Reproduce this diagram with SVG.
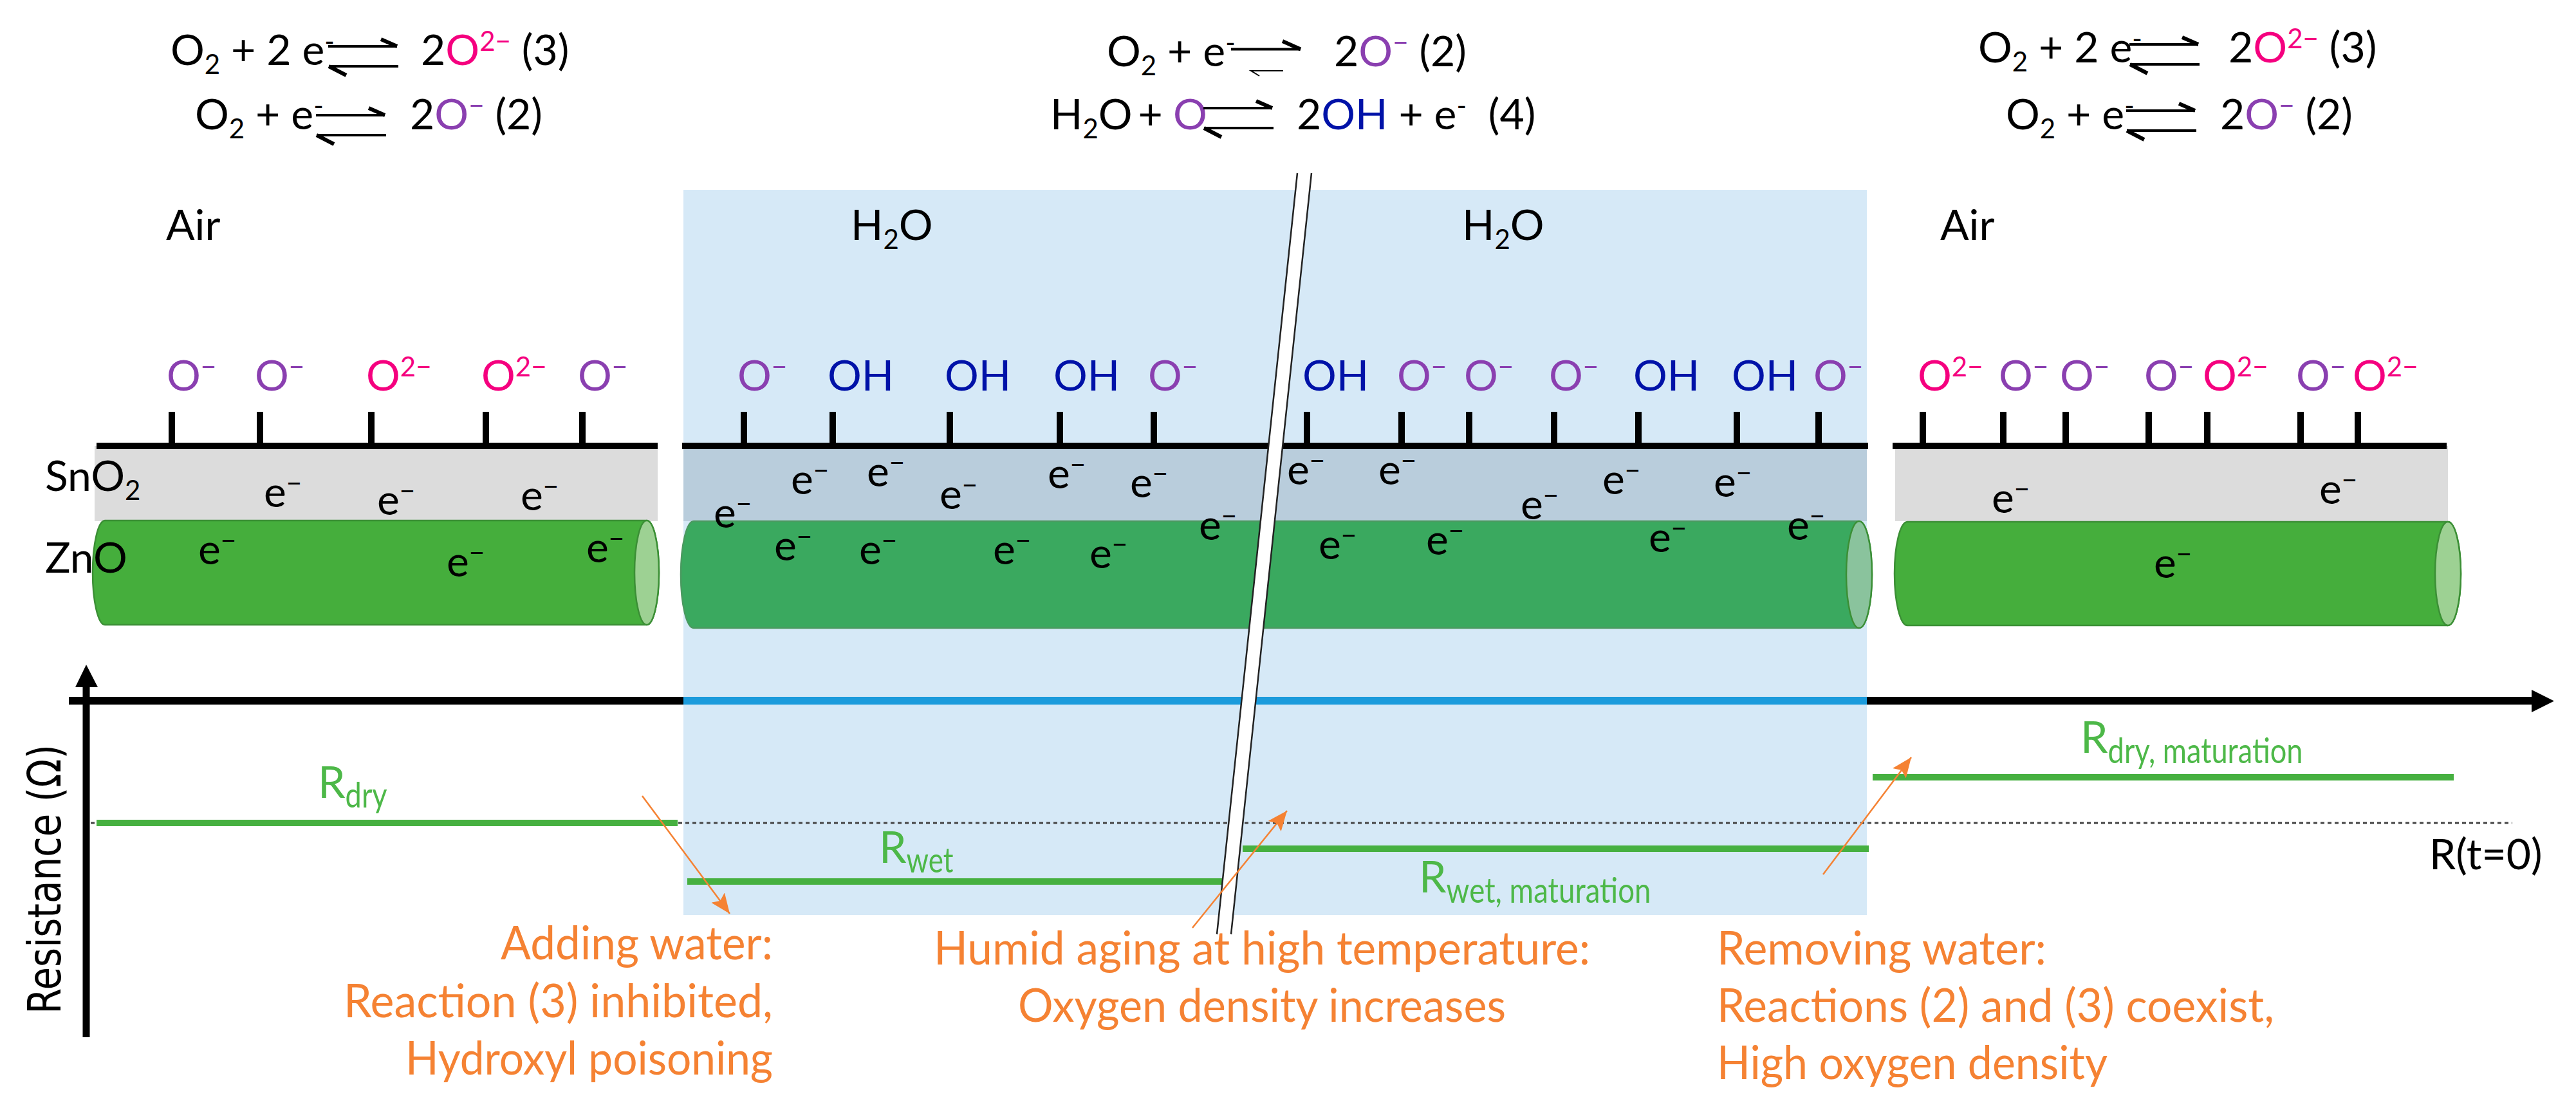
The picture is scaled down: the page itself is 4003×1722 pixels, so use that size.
<svg xmlns="http://www.w3.org/2000/svg" width="4003" height="1722" viewBox="0 0 4003 1722" xmlns:xlink="http://www.w3.org/1999/xlink">
<style>
text{font-family:"Lato","Liberation Sans",sans-serif;font-size:66px;fill:#000;white-space:pre}
.p{fill:#8a3fb0}.m{fill:#f5007f}.h{fill:#0012a8}
.s{font-size:42px}.b{font-size:42px}
.g{fill:#4db848;font-size:68px}.gs{font-size:54px}
.o{fill:#f58233;font-size:71px}
.sur{stroke:#000;stroke-width:10;fill:none}
.eq{stroke:#000;stroke-width:4;fill:none}
.eqh{stroke:#000;stroke-width:6;fill:none}
.gl{stroke:#46b040;stroke-width:10;fill:none}
.oa{stroke:#f58233;stroke-width:2.5;fill:none;marker-end:url(#oh)}
</style>
<defs>
<marker id="oh" markerUnits="userSpaceOnUse" markerWidth="34" markerHeight="28" refX="31" refY="13" orient="auto"><path d="M0,0L31,13L0,26L6,13Z" fill="#f58233"/></marker>
<g id="eq"><path class="eq" d="M0,0H107M1,31H109"/><path class="eqh" d="M107,0L82,-11M1,31L28,45"/></g>
</defs>
<rect width="4003" height="1722" fill="#fff"/>
<g id="humid-zone"><rect x="1062" y="295" width="1839" height="1127" fill="#d6e9f7"/></g>

<g id="sample-air-left">
<rect x="147" y="693" width="875" height="117" fill="#dcdcdc"/>
<path d="M163,809H1005A19,81 0 0 1 1005,971H163A19,81 0 0 1 163,809Z" fill="#45ae3c" stroke="#3b8f35" stroke-width="2.5"/>
<ellipse cx="1005" cy="890" rx="19" ry="81" fill="#9dd193" stroke="#3b8f35" stroke-width="2.5"/>
<path class="sur" d="M150,693H1022M267,640V693M404,640V693M577,640V693M755,640V693M905,640V693"/>
</g>
<g id="sample-humid">
<rect x="1062" y="693" width="1839" height="117" fill="#b9cddc"/>
<path d="M1078,810H2889A20,83 0 0 1 2889,976H1078A20,83 0 0 1 1078,810Z" fill="#3aa95f" stroke="#4a9a60" stroke-width="2.5"/>
<ellipse cx="2889" cy="893" rx="20" ry="83" fill="#8ac39d" stroke="#3b8f35" stroke-width="2.5"/>
<path class="sur" d="M1060,693H2903M1156,640V693M1294,640V693M1476,640V693M1647,640V693M1793,640V693M2031,640V693M2178,640V693M2283,640V693M2415,640V693M2546,640V693M2699,640V693M2826,640V693"/>
</g>
<g id="sample-air-right">
<rect x="2945" y="693" width="859" height="117" fill="#dcdcdc"/>
<path d="M2964,811H3804A20,80.500 0 0 1 3804,972H2964A20,80.500 0 0 1 2964,811Z" fill="#45ae3c" stroke="#3b8f35" stroke-width="2.500"/>
<ellipse cx="3804" cy="891.500" rx="20" ry="80.500" fill="#9dd193" stroke="#3b8f35" stroke-width="2.500"/>
<path class="sur" d="M2941,693H3802M2988,640V693M3113,640V693M3210,640V693M3339,640V693M3430,640V693M3575,640V693M3664,640V693"/>
</g>

<g id="electrons">
<text x="410" y="788">e<tspan class="s" dy="-22">−</tspan></text>
<text x="586" y="800">e<tspan class="s" dy="-22">−</tspan></text>
<text x="809" y="793">e<tspan class="s" dy="-22">−</tspan></text>
<text x="308" y="877">e<tspan class="s" dy="-22">−</tspan></text>
<text x="694" y="896">e<tspan class="s" dy="-22">−</tspan></text>
<text x="911" y="874">e<tspan class="s" dy="-22">−</tspan></text>
<text x="1109" y="820">e<tspan class="s" dy="-22">−</tspan></text>
<text x="1229" y="768">e<tspan class="s" dy="-22">−</tspan></text>
<text x="1203" y="871">e<tspan class="s" dy="-22">−</tspan></text>
<text x="1347" y="756">e<tspan class="s" dy="-22">−</tspan></text>
<text x="1335" y="877">e<tspan class="s" dy="-22">−</tspan></text>
<text x="1460" y="791">e<tspan class="s" dy="-22">−</tspan></text>
<text x="1628" y="759">e<tspan class="s" dy="-22">−</tspan></text>
<text x="1756" y="773">e<tspan class="s" dy="-22">−</tspan></text>
<text x="1863" y="839">e<tspan class="s" dy="-22">−</tspan></text>
<text x="1543" y="877">e<tspan class="s" dy="-22">−</tspan></text>
<text x="1693" y="883">e<tspan class="s" dy="-22">−</tspan></text>
<text x="2000" y="753">e<tspan class="s" dy="-22">−</tspan></text>
<text x="2142" y="753">e<tspan class="s" dy="-22">−</tspan></text>
<text x="2363" y="807">e<tspan class="s" dy="-22">−</tspan></text>
<text x="2490" y="768">e<tspan class="s" dy="-22">−</tspan></text>
<text x="2049" y="869">e<tspan class="s" dy="-22">−</tspan></text>
<text x="2216" y="862">e<tspan class="s" dy="-22">−</tspan></text>
<text x="2562" y="858">e<tspan class="s" dy="-22">−</tspan></text>
<text x="2663" y="772">e<tspan class="s" dy="-22">−</tspan></text>
<text x="2777" y="839">e<tspan class="s" dy="-22">−</tspan></text>
<text x="3095" y="797">e<tspan class="s" dy="-22">−</tspan></text>
<text x="3604" y="783">e<tspan class="s" dy="-22">−</tspan></text>
<text x="3347" y="898">e<tspan class="s" dy="-22">−</tspan></text>
</g>

<g id="surface-species">
<text class="p" x="259" y="607">O<tspan class="s" dy="-22">−</tspan></text>
<text class="p" x="396" y="607">O<tspan class="s" dy="-22">−</tspan></text>
<text class="m" x="569" y="607">O<tspan class="s" dy="-22">2−</tspan></text>
<text class="m" x="748" y="607">O<tspan class="s" dy="-22">2−</tspan></text>
<text class="p" x="898" y="607">O<tspan class="s" dy="-22">−</tspan></text>
<text class="p" x="1146" y="607">O<tspan class="s" dy="-22">−</tspan></text>
<text class="h" x="1286" y="607">OH</text>
<text class="h" x="1468" y="607">OH</text>
<text class="h" x="1637" y="607">OH</text>
<text class="p" x="1784" y="607">O<tspan class="s" dy="-22">−</tspan></text>
<text class="h" x="2024" y="607">OH</text>
<text class="p" x="2171" y="607">O<tspan class="s" dy="-22">−</tspan></text>
<text class="p" x="2275" y="607">O<tspan class="s" dy="-22">−</tspan></text>
<text class="p" x="2407" y="607">O<tspan class="s" dy="-22">−</tspan></text>
<text class="h" x="2538" y="607">OH</text>
<text class="h" x="2691" y="607">OH</text>
<text class="p" x="2818" y="607">O<tspan class="s" dy="-22">−</tspan></text>
<text class="m" x="2980" y="607">O<tspan class="s" dy="-22">2−</tspan></text>
<text class="p" x="3106" y="607">O<tspan class="s" dy="-22">−</tspan></text>
<text class="p" x="3201" y="607">O<tspan class="s" dy="-22">−</tspan></text>
<text class="p" x="3332" y="607">O<tspan class="s" dy="-22">−</tspan></text>
<text class="m" x="3423" y="607">O<tspan class="s" dy="-22">2−</tspan></text>
<text class="p" x="3568" y="607">O<tspan class="s" dy="-22">−</tspan></text>
<text class="m" x="3656" y="607">O<tspan class="s" dy="-22">2−</tspan></text>
</g>

<g id="labels">
<text x="258" y="373">Air</text><text x="3015" y="373">Air</text>
<text x="1322" y="373">H<tspan class="b" dy="14">2</tspan><tspan dy="-14">O</tspan></text>
<text x="2272" y="373">H<tspan class="b" dy="14">2</tspan><tspan dy="-14">O</tspan></text>
<text x="70" y="763">SnO<tspan class="b" dy="14">2</tspan></text>
<text x="70" y="890">ZnO</text>
</g>

<g id="equations">
<text x="265" y="101">O<tspan class="b" dy="14">2</tspan><tspan dy="-14"> + 2 e</tspan><tspan class="s" dy="-22">-</tspan></text>
<use xlink:href="#eq" x="510" y="72"/>
<text x="654" y="101">2<tspan class="m">O</tspan><tspan class="s m" dy="-22">2−</tspan><tspan dy="22"> (3)</tspan></text>
<text x="303" y="201">O<tspan class="b" dy="14">2</tspan><tspan dy="-14"> + e</tspan><tspan class="s" dy="-22">-</tspan></text>
<use xlink:href="#eq" x="491" y="179"/>
<text x="637" y="201">2<tspan class="p">O</tspan><tspan class="s p" dy="-22">−</tspan><tspan dy="22"> (2)</tspan></text>

<text x="1720" y="103">O<tspan class="b" dy="14">2</tspan><tspan dy="-14"> + e</tspan><tspan class="s" dy="-22">-</tspan></text>
<path class="eq" d="M1913,76.500H2021"/><path class="eqh" d="M2021,76.500L1993,64"/><path d="M1994,110H1944L1957,118" fill="none" stroke="#000" stroke-width="2"/>
<text x="2073" y="103">2<tspan class="p">O</tspan><tspan class="s p" dy="-22">−</tspan><tspan dy="22"> (2)</tspan></text>
<text x="1632" y="201">H<tspan class="b" dy="14">2</tspan><tspan dy="-14" style="letter-spacing:-4px">O + </tspan><tspan class="p" x="1823">O</tspan></text>
<use xlink:href="#eq" x="1870" y="168"/>
<text x="2015" y="201">2<tspan class="h">OH</tspan> + e<tspan class="s" dy="-22">-</tspan><tspan dy="22">  (4)</tspan></text>

<text x="3074" y="97">O<tspan class="b" dy="14">2</tspan><tspan dy="-14"> + 2 e</tspan><tspan class="s" dy="-22">-</tspan></text>
<use xlink:href="#eq" x="3309" y="69"/>
<text x="3463" y="97">2<tspan class="m">O</tspan><tspan class="s m" dy="-22">2−</tspan><tspan dy="22"> (3)</tspan></text>
<text x="3117" y="201">O<tspan class="b" dy="14">2</tspan><tspan dy="-14"> + e</tspan><tspan class="s" dy="-22">-</tspan></text>
<use xlink:href="#eq" x="3304" y="172"/>
<text x="3450" y="201">2<tspan class="p">O</tspan><tspan class="s p" dy="-22">−</tspan><tspan dy="22"> (2)</tspan></text>
</g>

<g id="axes">
<path d="M107,1089H1062" stroke="#000" stroke-width="12" fill="none"/>
<path d="M1062,1089H2901" stroke="#1b9bdc" stroke-width="12" fill="none"/>
<path d="M2901,1089H3936" stroke="#000" stroke-width="12" fill="none"/>
<path d="M3934,1072L3969,1089.500L3934,1107Z" fill="#000"/>
<path d="M134,1612V1066" stroke="#000" stroke-width="11" fill="none"/>
<path d="M117,1068L134,1033L152,1068Z" fill="#000"/>
<text transform="translate(94,1576) rotate(-90)" textLength="419" lengthAdjust="spacingAndGlyphs" style="font-family:'DejaVu Sans',sans-serif;font-size:72px">Resistance (Ω)</text>
<path d="M141,1279H3904" stroke="#444" stroke-width="3" stroke-dasharray="6 5" fill="none"/>
</g>

<g id="resistance-levels">
<path class="gl" d="M150,1279H1053"/>
<path class="gl" d="M1068,1370H1900"/>
<path class="gl" d="M1931,1319H2904"/>
<path class="gl" d="M2910,1208H3813"/>
<text class="g" x="494" y="1240">R<tspan class="gs" dy="15" textLength="65" lengthAdjust="spacingAndGlyphs">dry</tspan></text>
<text class="g" x="1366" y="1341">R<tspan class="gs" dy="15" textLength="73" lengthAdjust="spacingAndGlyphs">wet</tspan></text>
<text class="g" x="2205" y="1387">R<tspan class="gs" dy="16" textLength="318" lengthAdjust="spacingAndGlyphs">wet, maturation</tspan></text>
<text class="g" x="3233" y="1170">R<tspan class="gs" dy="16" textLength="303" lengthAdjust="spacingAndGlyphs">dry, maturation</tspan></text>
<text x="3775" y="1351">R(t=0)</text>
</g>

<g id="axis-break">
<path d="M2016,269H2038L1913,1452H1891Z" fill="#fff"/>
<path d="M2016,269L1891,1452M2038,269L1913,1452" stroke="#222" stroke-width="2.500" fill="none"/>
</g>

<g id="connectors">
<path class="oa" d="M998,1237L1134,1420"/>
<path class="oa" d="M1853,1442L2000,1260"/>
<path class="oa" d="M2833,1359L2970,1177"/>
</g>

<g id="notes">
<text class="o" x="778" y="1491" textLength="423" lengthAdjust="spacingAndGlyphs">Adding water:</text>
<text class="o" x="534" y="1581" textLength="667" lengthAdjust="spacingAndGlyphs">Reaction (3) inhibited,</text>
<text class="o" x="630" y="1670" textLength="571" lengthAdjust="spacingAndGlyphs">Hydroxyl poisoning</text>
<text class="o" x="1451" y="1499" textLength="1020" lengthAdjust="spacingAndGlyphs">Humid aging at high temperature:</text>
<text class="o" x="1582" y="1588" textLength="758" lengthAdjust="spacingAndGlyphs">Oxygen density increases</text>
<text class="o" x="2668" y="1499" textLength="512" lengthAdjust="spacingAndGlyphs">Removing water:</text>
<text class="o" x="2668" y="1588" textLength="866" lengthAdjust="spacingAndGlyphs">Reactions (2) and (3) coexist,</text>
<text class="o" x="2668" y="1677" textLength="607" lengthAdjust="spacingAndGlyphs">High oxygen density</text>
</g>
</svg>
